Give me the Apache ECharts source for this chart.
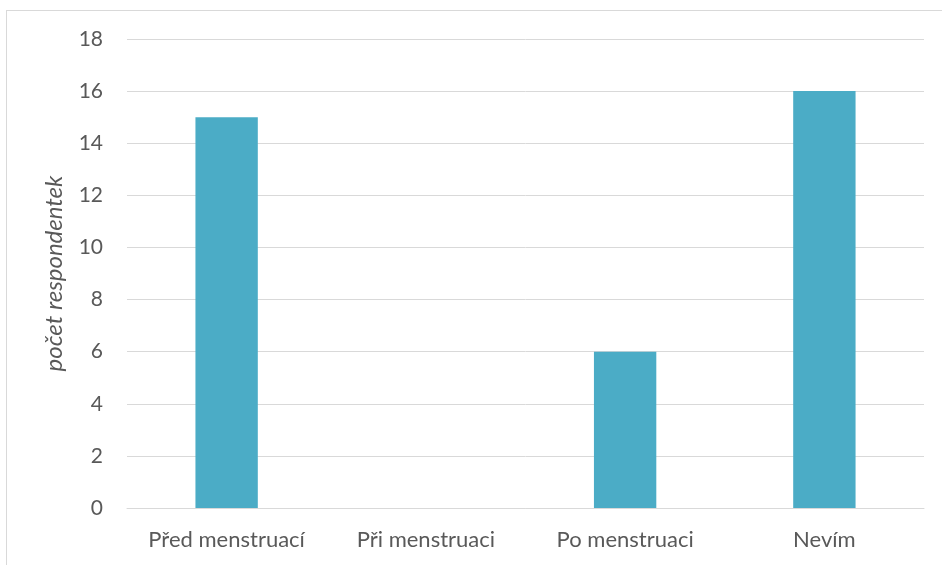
<!DOCTYPE html>
<html>
<head>
<meta charset="utf-8">
<style>
  html, body { margin: 0; padding: 0; background: #fff; }
  #frame { position: absolute; left: 6px; top: 10px; width: 960px; height: 600px; border: 1px solid #d9d9d9; box-sizing: border-box; }
  #chart { position: absolute; left: 0; top: 0; width: 942px; height: 565px; }
</style>
<script src="https://cdn.jsdelivr.net/npm/echarts@6/dist/echarts.min.js"></script>
</head>
<body>
<div id="frame"></div>
<div id="chart"></div>
<script>
// Kdy respondentky pociťují potíže
const categories = ['Před menstruací', 'Při menstruaci', 'Po menstruaci', 'Nevím'];
const counts = [15, 0, 6, 16];
const axisTitle = 'počet respondentek';

const chart = echarts.init(document.getElementById('chart'), null, { renderer: 'canvas' });
const fontFamily = 'Lato, "Open Sans", sans-serif';

chart.setOption({
  animation: false,
  grid: { left: 127, right: 18, top: 39, bottom: 57, containLabel: false },
  xAxis: {
    type: 'category',
    data: categories,
    axisLine: { show: true, lineStyle: { color: '#d9d9d9', width: 1 } },
    axisTick: { show: false },
    axisLabel: { color: '#595959', fontSize: 22, fontFamily: fontFamily, margin: 21, interval: 0, hideOverlap: false }
  },
  yAxis: {
    type: 'value',
    min: 0,
    max: 18,
    interval: 2,
    name: axisTitle,
    nameLocation: 'middle',
    nameGap: 61,
    nameTextStyle: { color: '#595959', fontSize: 24, fontStyle: 'italic', fontFamily: fontFamily },
    axisLine: { show: false },
    axisTick: { show: false },
    axisLabel: { color: '#595959', fontSize: 21, fontFamily: fontFamily, margin: 24 },
    splitLine: { lineStyle: { color: '#d9d9d9', width: 1 } }
  },
  series: [{
    type: 'bar',
    data: counts,
    barWidth: '31.3%',
    itemStyle: { color: '#4bacc6' }
  }]
});
</script>
</body>
</html>
